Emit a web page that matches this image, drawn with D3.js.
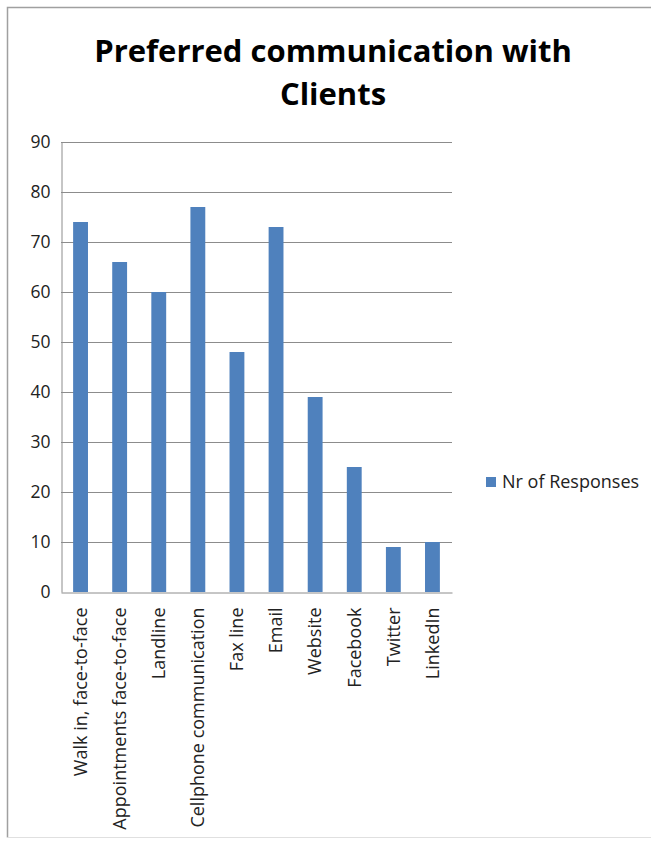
<!DOCTYPE html>
<html>
<head>
<meta charset="utf-8">
<script src="https://cdn.jsdelivr.net/npm/d3@7"></script>
<style>
  html, body { margin: 0; padding: 0; background: #fff; }
  svg { display: block; }
</style>
</head>
<body>
<svg id="chart" width="651" height="843"></svg>
<script>
const categories = ["Walk in, face-to-face", "Appointments face-to-face", "Landline", "Cellphone communication", "Fax line", "Email", "Website", "Facebook", "Twitter", "LinkedIn"];
const responses = [74, 66, 60, 77, 48, 73, 39, 25, 9, 10];
const yTicks = [0, 10, 20, 30, 40, 50, 60, 70, 80, 90];
const seriesName = "Nr of Responses";
const titleLines = ["Preferred communication with", "Clients"];

const svg = d3.select("#chart");
const font = "'Open Sans', 'Liberation Sans', sans-serif";

// outer border (top and left visible)
svg.append("path")
  .attr("d", "M7.5,837.5 L7.5,7.5 L651,7.5")
  .attr("fill", "none").attr("stroke", "#a0a0a0").attr("stroke-width", 1.5);
svg.append("path")
  .attr("d", "M7.5,837.5 L651,837.5")
  .attr("fill", "none").attr("stroke", "#e0e0e0").attr("stroke-width", 1);

const m = { left: 61, right: 452, top: 142, bottom: 592 };

const x = d3.scaleBand().domain(categories).range([m.left, m.right])
  .paddingInner(0.62).paddingOuter(0.31);
const y = d3.scaleLinear().domain([0, 90]).range([m.bottom, m.top]);

// gridlines
svg.append("g").selectAll("line").data(yTicks.filter(d => d > 0)).join("line")
  .attr("x1", m.left).attr("x2", m.right)
  .attr("y1", d => Math.round(y(d)) + 0.5).attr("y2", d => Math.round(y(d)) + 0.5)
  .attr("stroke", "#8c8c8c").attr("stroke-width", 1);

// y axis
const yAxis = svg.append("g").attr("transform", `translate(${m.left + 0.5},0)`)
  .call(d3.axisLeft(y).tickValues(yTicks).tickSize(0).tickPadding(11));
yAxis.select(".domain").attr("stroke", "#8c8c8c");
yAxis.selectAll("text").attr("font-family", font).attr("font-size", 17.5).attr("fill", "#222");

// bars
svg.append("g").selectAll("rect").data(categories).join("rect")
  .attr("x", d => x(d))
  .attr("width", x.bandwidth())
  .attr("y", (d, i) => y(responses[i]))
  .attr("height", (d, i) => y(0) - y(responses[i]))
  .attr("fill", "#4f81bd");

// x axis
const xAxis = svg.append("g").attr("transform", `translate(0,${m.bottom + 0.5})`)
  .call(d3.axisBottom(x).tickSize(0).tickPadding(0));
xAxis.select(".domain").attr("stroke", "#8c8c8c");
xAxis.selectAll("text")
  .attr("font-family", font).attr("font-size", 18).attr("fill", "#222")
  .attr("transform", "rotate(-90)")
  .attr("text-anchor", "end")
  .attr("dy", "0.35em")
  .attr("x", -15)
  .attr("y", 0);

// title
svg.append("g").selectAll("text").data(titleLines).join("text")
  .attr("x", 333).attr("y", (d, i) => 62 + i * 43)
  .attr("text-anchor", "middle")
  .attr("font-family", font).attr("font-weight", "bold").attr("font-size", 31)
  .attr("fill", "#000")
  .text(d => d);

// legend
const lg = svg.append("g").attr("transform", "translate(486,477)");
lg.append("rect").attr("width", 10).attr("height", 10).attr("fill", "#4f81bd");
lg.append("text").attr("x", 16).attr("y", 11)
  .attr("font-family", font).attr("font-size", 18).attr("fill", "#222")
  .text(seriesName);
</script>
</body>
</html>
